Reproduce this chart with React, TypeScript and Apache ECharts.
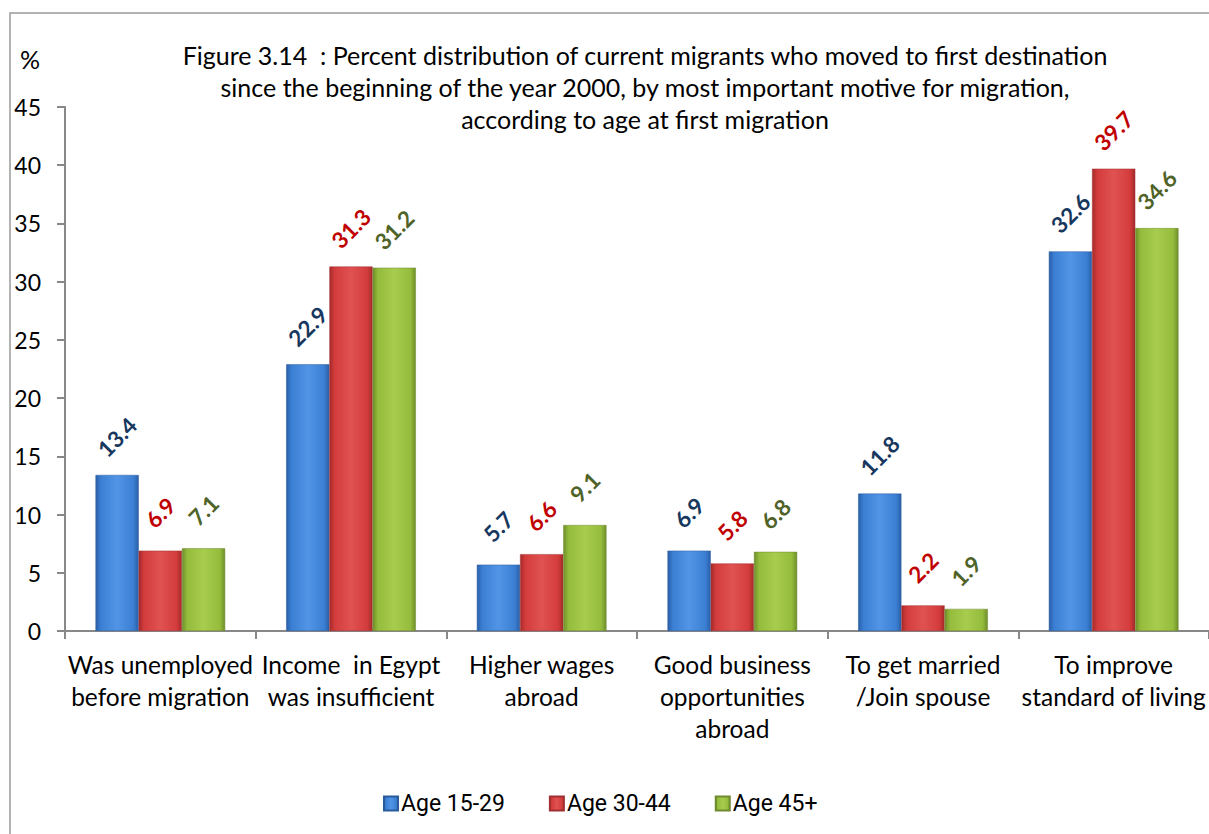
import React, { useEffect, useRef } from "react";
import * as echarts from "echarts";

const categories = [
  "Was unemployed\nbefore migration",
  "Income  in Egypt\nwas insufficient",
  "Higher wages\nabroad",
  "Good business\nopportunities\nabroad",
  "To get married\n/Join spouse",
  "To improve\nstandard of living",
];
const seriesNames = ["Age 15-29", "Age 30-44", "Age 45+"];
const age1529 = [13.4, 22.9, 5.7, 6.9, 11.8, 32.6];
const age3044 = [6.9, 31.3, 6.6, 5.8, 2.2, 39.7];
const age45 = [7.1, 31.2, 9.1, 6.8, 1.9, 34.6];
const titleText =
  "Figure 3.14  : Percent distribution of current migrants who moved to first destination\nsince the beginning of the year 2000, by most important motive for migration,\naccording to age at first migration";

const grad = (dark: string, mid: string, light: string) =>
  new echarts.graphic.LinearGradient(0, 0, 1, 0, [
    { offset: 0, color: dark },
    { offset: 0.12, color: mid },
    { offset: 0.5, color: light },
    { offset: 0.88, color: mid },
    { offset: 1, color: dark },
  ]);

export default function App() {
  const ref = useRef<HTMLDivElement>(null);
  useEffect(() => {
    const chart = echarts.init(ref.current!, null, { renderer: "svg" });
    const labelFont = "Lato, sans-serif";
    const mk = (name: string, data: number[], color: any, labelColor: string, border: string) => ({
      name,
      type: "bar",
      data,
      barGap: "0%",
      barCategoryGap: "32%",
      itemStyle: { color, borderColor: border, borderWidth: 0.5 },
      label: {
        show: true,
        position: "top",
        distance: 38,
        rotate: 45,
        align: "center",
        verticalAlign: "middle",
        color: labelColor,
        fontWeight: "bold",
        fontSize: 22.5,
        fontFamily: labelFont,
        formatter: (p: any) => p.value.toFixed(1),
      },
    });
    chart.setOption({
      animation: false,
      backgroundColor: "#ffffff",
      title: {
        text: titleText,
        left: 640,
        textAlign: "center",
        top: 34,
        textStyle: {
          fontFamily: labelFont,
          fontWeight: "normal",
          fontSize: 25,
          lineHeight: 32,
          color: "#000",
        },
      },
      graphic: [
        {
          type: "rect",
          shape: { x: 10, y: 13, width: 1400, height: 1000 },
          style: { fill: "none", stroke: "#9a9a9a", lineWidth: 1.5 },
          silent: true,
        },
        {
          type: "text",
          x: 20,
          y: 46,
          style: { text: "%", fontSize: 25, fontFamily: labelFont, fill: "#000" },
        },
      ],
      legend: {
        left: 378,
        top: 787,
        itemWidth: 14,
        itemHeight: 14,
        itemGap: 44,
        icon: "rect",
        textStyle: {
          fontFamily: "Roboto, sans-serif",
          fontSize: 23,
          color: "#000",
          padding: [0, 0, 0, -2],
        },
        data: seriesNames,
      },
      grid: { left: 65, right: 0, top: 107, bottom: 203, containLabel: false },
      xAxis: {
        type: "category",
        data: categories,
        axisLine: { lineStyle: { color: "#888", width: 2 } },
        axisTick: { show: true, length: 8, lineStyle: { color: "#888", width: 2 } },
        axisLabel: {
          interval: 0,
          fontFamily: labelFont,
          fontSize: 24.5,
          lineHeight: 32,
          color: "#000",
          margin: 17,
        },
      },
      yAxis: {
        type: "value",
        min: 0,
        max: 45,
        interval: 5,
        splitLine: { show: false },
        axisLine: { show: true, lineStyle: { color: "#888", width: 2 } },
        axisTick: { show: true, length: 8, lineStyle: { color: "#888", width: 2 } },
        axisLabel: {
          fontFamily: labelFont,
          fontSize: 23,
          color: "#000",
          margin: 24,
        },
      },
      series: [
        mk(seriesNames[0], age1529, grad("#2a5fa8", "#3b7fd4", "#5295e6"), "#17375E", "#2a5a9c"),
        mk(seriesNames[1], age3044, grad("#a52a2a", "#d43c3c", "#e05252"), "#C00000", "#a03030"),
        mk(seriesNames[2], age45, grad("#6f8f2a", "#95bc3c", "#a8cc4e"), "#4F6228", "#6f8a30"),
      ],
    });
    return () => chart.dispose();
  }, []);
  return (
    <div
      ref={ref}
      style={{ position: "fixed", left: 0, top: 0, width: 1209, height: 834 }}
    />
  );
}
